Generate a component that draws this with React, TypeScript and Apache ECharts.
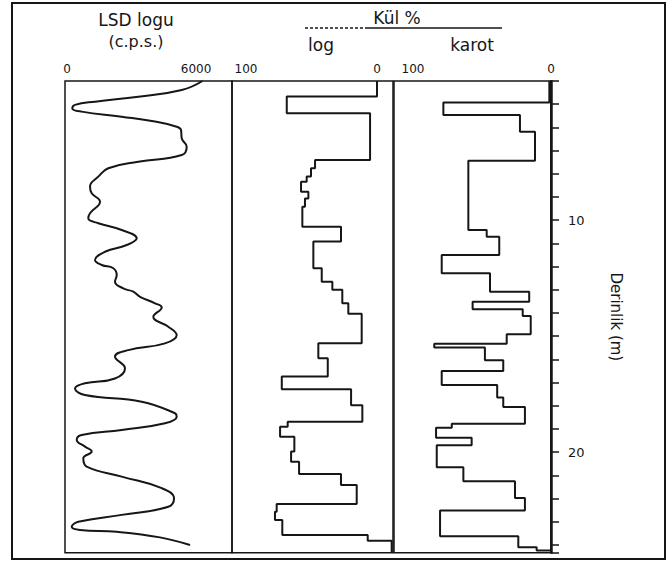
import React, { useEffect, useRef } from "react";
import * as echarts from "echarts";

// ---- depth axis (m) ----
const DEPTH_MIN = 4;
const DEPTH_MAX = 24.33;
const depthLabels = [10, 20];

// ---- LSD log (c.p.s.) ----
const lsdDepth = [
  4.0, 4.39, 4.68, 4.89, 5.03, 5.18, 5.32, 5.54, 5.75, 5.97, 6.11, 6.47, 6.83, 7.19, 7.48, 7.76,
  8.12, 8.55, 8.84, 9.2, 9.7, 9.92, 10.13, 10.42, 10.78, 11.07, 11.36, 11.72, 11.93, 12.07, 12.36,
  12.65, 12.94, 13.08, 13.3, 13.58, 13.76, 14.16, 14.59, 14.95, 15.31, 15.6, 15.88, 16.38, 16.82,
  17.03, 17.25, 17.53, 17.82, 18.32, 18.47, 18.75, 19.04, 19.26, 19.47, 19.76, 19.97, 20.26, 20.62,
  21.05, 21.55, 21.99, 22.35, 22.7, 23.0, 23.21, 23.35, 23.43, 23.67, 24.0,
];
const lsdCps = [
  6300, 5334, 3315, 1302, 372, 247, 684, 2544, 4092, 5101, 5302, 5334, 5566, 5334, 3315, 1920,
  1455, 1070, 1149, 1535, 1070, 990, 1455, 2544, 3241, 2776, 1767, 1302, 1614, 2153, 2311,
  2232, 2618, 3083, 3395, 4092, 4404, 4013, 4710, 5101, 4557, 2850, 2232, 2697, 2232,
  837, 372, 837, 3474, 5022, 5101, 4557, 2544, 684, 451, 837, 1149, 758, 916,
  2544, 4404, 4976, 4710, 2544, 525, 219, 605, 2311, 4325, 5720,
];
const lsdTickLabels = [0, 6000];

// ---- Kül % from log (step intervals) ----
const logBounds = [
  4.0, 4.67, 5.39, 7.41, 7.76, 8.12, 8.34, 8.77, 9.06, 9.42, 10.28, 10.92, 12.07, 12.65, 13.0,
  13.58, 14.03, 15.3, 15.95, 16.74, 17.29, 17.97, 18.69, 18.9, 19.33, 19.97, 20.41, 20.94, 21.41,
  22.23, 22.56, 22.92, 23.57, 23.81, 24.33,
];
const logAsh = [
  0, 68.9, 5.3, 47.3, 50.4, 53.7, 58.0, 52.4, 55.0, 57.0, 27.5, 48.6, 42.2, 34.1, 26.5, 21.9,
  11.7, 44.8, 37.6, 72.7, 19.8, 11.2, 68.2, 74.0, 63.1, 65.6, 59.5, 27.5, 15.5, 76.6, 77.9, 72.3,
  7.1, -11.2,
];

// ---- Kül % from karot (core) ----
const karotBounds = [
  4.0, 4.93, 5.47, 6.19, 7.44, 10.42, 10.71, 11.5, 12.29, 13.08, 13.51, 13.84, 14.13, 14.92,
  15.32, 15.49, 16.04, 16.5, 17.1, 17.64, 18.05, 18.77, 18.95, 19.38, 19.7, 20.65, 21.25, 21.97,
  22.51, 23.62, 24.09, 24.23, 24.33,
];
const karotAsh = [
  1.2, 78.0, 22.5, 11.6, 59.9, 46.6, 37.5, 79.2, 44.2, 15.8, 56.8, 20.5, 14.7, 32.1, 84.6, 47.9,
  34.6, 79.2, 39.0, 34.6, 18.9, 71.9, 83.3, 57.5, 82.8, 63.5, 26.1, 18.9, 80.4, 23.7, 10.4, 0,
];
const ashTickLabels = [0, 100];

function stepPoints(bounds: number[], vals: number[]) {
  const pts: number[][] = [];
  vals.forEach((v, i) => {
    pts.push([v, bounds[i]]);
    pts.push([v, bounds[i + 1]]);
  });
  return pts;
}

const INK = "#161616";
const FONT = "DejaVu Sans";

export default function App() {
  const ref = useRef<HTMLDivElement>(null);
  useEffect(() => {
    if (!ref.current) return;
    const chart = echarts.init(ref.current, undefined, { renderer: "svg" });
    const gridTop = 81;
    const gridH = 471.7;
    const gridCommon = {
      top: gridTop,
      height: gridH,
      show: true,
      borderColor: INK,
      borderWidth: 1.5,
      backgroundColor: "transparent",
    };
    const topLabel = (vals: number[]) => ({
      customValues: vals,
      formatter: (v: number) => String(v),
      margin: 6,
      fontSize: 12,
      color: INK,
      fontFamily: FONT,
    });
    const hiddenY = (i: number) => ({
      gridIndex: i,
      type: "value",
      inverse: true,
      min: DEPTH_MIN,
      max: DEPTH_MAX,
      show: false,
    });
    const option: any = {
      animation: false,
      backgroundColor: "#fff",
      grid: [
        { ...gridCommon, left: 65, width: 167 },
        { ...gridCommon, left: 232, width: 161 },
        { ...gridCommon, left: 394, width: 158 },
      ],
      xAxis: [
        {
          gridIndex: 0,
          type: "value",
          position: "top",
          min: -93,
          max: 7672,
          axisLine: { show: false },
          axisTick: { show: false },
          splitLine: { show: false },
          axisLabel: topLabel(lsdTickLabels),
        },
        {
          gridIndex: 1,
          type: "value",
          position: "top",
          inverse: true,
          min: -12.2,
          max: 110.7,
          axisLine: { show: false },
          axisTick: { show: false },
          splitLine: { show: false },
          axisLabel: topLabel(ashTickLabels),
        },
        {
          gridIndex: 2,
          type: "value",
          position: "top",
          inverse: true,
          min: -0.72,
          max: 113.77,
          axisLine: { show: false },
          axisTick: { show: false },
          splitLine: { show: false },
          axisLabel: topLabel(ashTickLabels),
        },
      ],
      yAxis: [
        hiddenY(0),
        hiddenY(1),
        {
          gridIndex: 2,
          type: "value",
          position: "right",
          inverse: true,
          min: DEPTH_MIN,
          max: DEPTH_MAX,
          interval: 1,
          axisLine: { show: true, lineStyle: { color: INK, width: 2 } },
          axisTick: { show: true, inside: false, length: 8, lineStyle: { color: INK, width: 1.5 } },
          axisLabel: {
            customValues: depthLabels,
            formatter: (v: number) => (depthLabels.includes(v) ? String(v) : ""),
            margin: 16,
            fontSize: 13,
            color: INK,
            fontFamily: FONT,
          },
          splitLine: { show: false },
          name: "Derinlik (m)",
          nameLocation: "middle",
          nameRotate: -90,
          nameGap: 56,
          nameTextStyle: { fontSize: 15, color: INK, fontFamily: FONT },
        },
      ],
      series: [
        {
          type: "line",
          xAxisIndex: 0,
          yAxisIndex: 0,
          data: lsdDepth.map((d, i) => [lsdCps[i], d]),
          smooth: 0.45,
          showSymbol: false,
          lineStyle: { color: INK, width: 2 },
        },
        {
          type: "line",
          xAxisIndex: 1,
          yAxisIndex: 1,
          data: stepPoints(logBounds, logAsh),
          showSymbol: false,
          lineStyle: { color: INK, width: 2 },
        },
        {
          type: "line",
          xAxisIndex: 2,
          yAxisIndex: 2,
          data: stepPoints(karotBounds, karotAsh),
          showSymbol: false,
          lineStyle: { color: INK, width: 2 },
        },
      ],
      graphic: [
        {
          type: "rect",
          shape: { x: 12, y: 3, width: 653, height: 556 },
          style: { fill: "none", stroke: INK, lineWidth: 2 },
          silent: true,
        },
        {
          type: "text",
          x: 136,
          y: 20,
          style: { text: "LSD logu", fontSize: 17, fontFamily: FONT, fill: INK, align: "center", verticalAlign: "middle" },
        },
        {
          type: "text",
          x: 136,
          y: 41,
          style: { text: "(c.p.s.)", fontSize: 16, fontFamily: FONT, fill: INK, align: "center", verticalAlign: "middle" },
        },
        {
          type: "text",
          x: 397,
          y: 18,
          style: { text: "Kül %", fontSize: 17, fontFamily: FONT, fill: INK, align: "center", verticalAlign: "middle" },
        },
        {
          type: "line",
          shape: { x1: 305, y1: 28, x2: 366, y2: 28 },
          style: { stroke: INK, lineWidth: 1.5, lineDash: [3, 2] },
        },
        {
          type: "line",
          shape: { x1: 366, y1: 28, x2: 502, y2: 28 },
          style: { stroke: INK, lineWidth: 1.5 },
        },
        {
          type: "text",
          x: 321,
          y: 45,
          style: { text: "log", fontSize: 17, fontFamily: FONT, fill: INK, align: "center", verticalAlign: "middle" },
        },
        {
          type: "text",
          x: 472,
          y: 45,
          style: { text: "karot", fontSize: 17, fontFamily: FONT, fill: INK, align: "center", verticalAlign: "middle" },
        },
      ],
    };
    chart.setOption(option);
    return () => chart.dispose();
  }, []);
  return (
    <div
      ref={ref}
      style={{ position: "absolute", left: 0, top: 0, width: 669, height: 562, background: "#fff" }}
    />
  );
}
